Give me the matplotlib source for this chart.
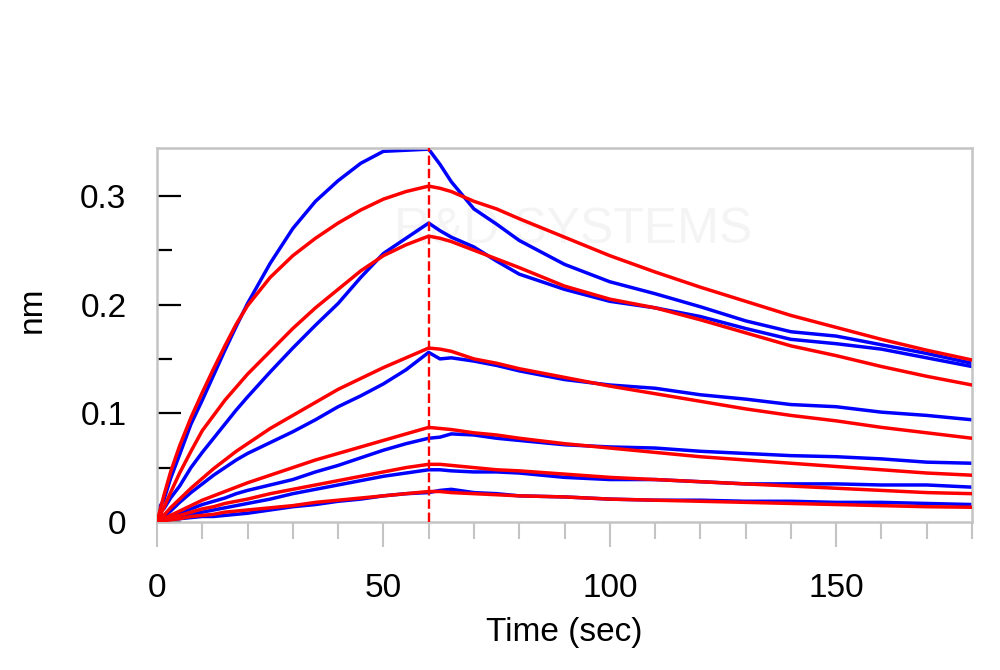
import matplotlib
matplotlib.use("Agg")
import matplotlib.pyplot as plt
from matplotlib.ticker import MultipleLocator

# time grid (sec) shared by all traces
t = [0, 1.5, 3, 5, 7.5, 10, 12.5, 15, 17.5, 20, 25, 30, 35, 40, 45, 50, 55, 60,
     62.5, 65, 70, 75, 80, 90, 100, 110, 120, 130, 140, 150, 160, 170, 180]

# measured traces (blue), highest concentration first
b1 = [0.010, 0.020, 0.040, 0.062, 0.090, 0.112, 0.135, 0.158, 0.180, 0.201, 0.238, 0.270, 0.295, 0.314, 0.330, 0.341, 0.342, 0.343,
      0.329, 0.313, 0.288, 0.274, 0.259, 0.237, 0.221, 0.210, 0.198, 0.185, 0.175, 0.171, 0.163, 0.155, 0.146]
b2 = [0.010, 0.012, 0.022, 0.033, 0.050, 0.064, 0.077, 0.090, 0.103, 0.115, 0.138, 0.160, 0.181, 0.201, 0.225, 0.247, 0.261, 0.275,
      0.268, 0.262, 0.253, 0.240, 0.228, 0.214, 0.203, 0.197, 0.189, 0.178, 0.168, 0.164, 0.159, 0.151, 0.143]
b3 = [0.005, 0.006, 0.010, 0.018, 0.027, 0.035, 0.043, 0.050, 0.057, 0.063, 0.073, 0.083, 0.094, 0.106, 0.116, 0.127, 0.140, 0.156,
      0.150, 0.151, 0.148, 0.144, 0.139, 0.131, 0.126, 0.123, 0.117, 0.113, 0.108, 0.106, 0.101, 0.098, 0.094]
b4 = [0.004, 0.004, 0.006, 0.008, 0.012, 0.016, 0.019, 0.022, 0.026, 0.029, 0.034, 0.039, 0.046, 0.052, 0.059, 0.066, 0.072, 0.077,
      0.078, 0.081, 0.080, 0.077, 0.075, 0.071, 0.069, 0.068, 0.065, 0.063, 0.061, 0.060, 0.058, 0.055, 0.054]
b5 = [0.003, 0.003, 0.004, 0.005, 0.007, 0.009, 0.011, 0.013, 0.015, 0.017, 0.021, 0.026, 0.030, 0.034, 0.038, 0.042, 0.045, 0.048,
      0.048, 0.047, 0.046, 0.046, 0.045, 0.041, 0.039, 0.039, 0.037, 0.035, 0.035, 0.035, 0.034, 0.034, 0.032]
b6 = [0.002, 0.002, 0.002, 0.003, 0.004, 0.005, 0.005, 0.006, 0.007, 0.008, 0.011, 0.014, 0.016, 0.019, 0.021, 0.024, 0.026, 0.027,
      0.029, 0.030, 0.027, 0.026, 0.024, 0.023, 0.021, 0.020, 0.020, 0.019, 0.019, 0.018, 0.018, 0.017, 0.016]

# fitted curves (red)
r1 = [0.000, 0.024, 0.046, 0.070, 0.096, 0.119, 0.141, 0.162, 0.182, 0.199, 0.225, 0.245, 0.261, 0.275, 0.287, 0.297, 0.304, 0.309,
      0.307, 0.304, 0.295, 0.288, 0.279, 0.262, 0.245, 0.230, 0.216, 0.203, 0.190, 0.179, 0.168, 0.158, 0.149]
r2 = [0.000, 0.013, 0.027, 0.045, 0.065, 0.084, 0.098, 0.112, 0.124, 0.136, 0.157, 0.178, 0.197, 0.214, 0.231, 0.245, 0.255, 0.263,
      0.261, 0.258, 0.250, 0.242, 0.234, 0.217, 0.205, 0.197, 0.186, 0.174, 0.162, 0.153, 0.143, 0.134, 0.126]
r3 = [0.000, 0.006, 0.013, 0.021, 0.031, 0.040, 0.049, 0.057, 0.065, 0.072, 0.086, 0.098, 0.110, 0.122, 0.132, 0.142, 0.151, 0.160,
      0.159, 0.157, 0.150, 0.146, 0.141, 0.133, 0.125, 0.118, 0.111, 0.104, 0.098, 0.093, 0.087, 0.082, 0.077]
r4 = [0.000, 0.003, 0.006, 0.010, 0.015, 0.020, 0.024, 0.028, 0.032, 0.036, 0.043, 0.050, 0.057, 0.063, 0.069, 0.075, 0.081, 0.087,
      0.086, 0.085, 0.082, 0.080, 0.077, 0.072, 0.068, 0.064, 0.060, 0.057, 0.054, 0.051, 0.048, 0.045, 0.043]
r5 = [0.000, 0.002, 0.004, 0.006, 0.009, 0.012, 0.014, 0.017, 0.019, 0.021, 0.026, 0.030, 0.034, 0.038, 0.042, 0.046, 0.050, 0.053,
      0.053, 0.052, 0.050, 0.048, 0.047, 0.044, 0.041, 0.039, 0.037, 0.035, 0.033, 0.031, 0.029, 0.027, 0.026]
r6 = [0.000, 0.001, 0.002, 0.003, 0.005, 0.006, 0.007, 0.009, 0.010, 0.011, 0.013, 0.015, 0.018, 0.020, 0.022, 0.024, 0.026, 0.028,
      0.028, 0.027, 0.026, 0.025, 0.024, 0.023, 0.021, 0.020, 0.019, 0.018, 0.017, 0.016, 0.015, 0.014, 0.0135]

BLUE = [b1, b2, b3, b4, b5, b6]
RED = [r1, r2, r3, r4, r5, r6]
T_SWITCH = 60  # association -> dissociation

plt.rcParams["font.family"] = ["Liberation Sans", "DejaVu Sans"]

fig = plt.figure(figsize=(10, 6.7), dpi=100)
ax = fig.add_axes([0.157, 0.221, 0.815, 0.558])

for y in BLUE:
    ax.plot(t, y, color="#0000ff", lw=2.5, zorder=2)
for y in RED:
    ax.plot(t, y, color="#ff0000", lw=2.5, zorder=3)
ax.axvline(T_SWITCH, color="#ff0000", lw=1.7, ls=(0, (4, 1.6)), zorder=4)

# faint watermark
ax.text(0.51, 0.78, "R&D SYSTEMS", transform=ax.transAxes, ha="center", va="center",
        fontsize=36, color="#f4f4f4", zorder=0)

ax.set_xlim(0, 180)
ax.set_ylim(0, 0.344)
ax.xaxis.set_major_locator(MultipleLocator(50))
ax.xaxis.set_minor_locator(MultipleLocator(10))
ax.yaxis.set_minor_locator(MultipleLocator(0.05))
ax.set_yticks([0, 0.1, 0.2, 0.3])
ax.set_yticklabels(["0", "0.1", "0.2", "0.3"])

for s in ax.spines.values():
    s.set_color("#c4c4c4")
    s.set_linewidth(1.8)

ax.tick_params(axis="y", which="major", direction="in", length=17, width=1.6,
               color="black", labelsize=24, pad=22)
ax.tick_params(axis="y", which="minor", direction="in", length=10.5, width=1.6, color="black")
ax.tick_params(axis="x", which="major", direction="out", length=18, width=1.5,
               color="#c4c4c4", labelsize=24, pad=19)
ax.tick_params(axis="x", which="minor", direction="out", length=12, width=1.5, color="#c4c4c4")

ax.set_xlabel("Time (sec)", fontsize=24, labelpad=9)
fig.text(0.032, 1 - 310 / 670, "nm", rotation=90, ha="center", va="center", fontsize=24)

fig.savefig("out.png", dpi=100)
